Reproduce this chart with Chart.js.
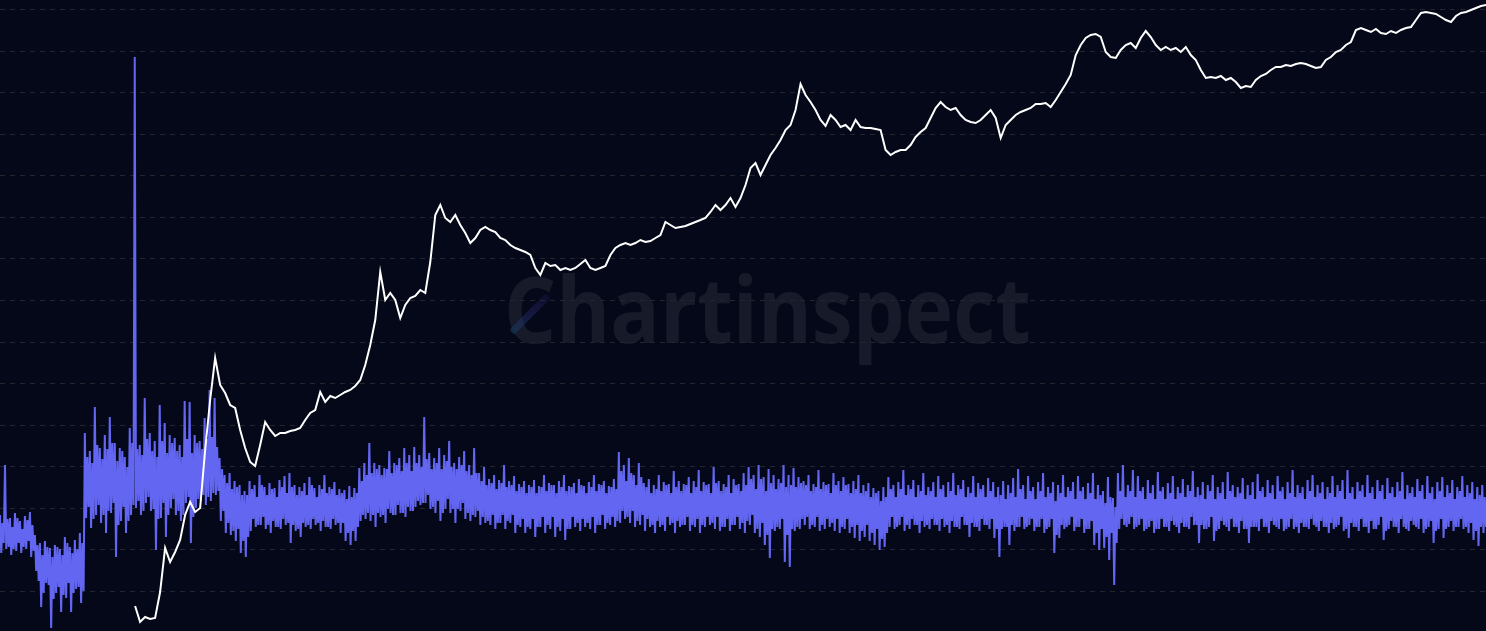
<!DOCTYPE html>
<html>
<head>
<meta charset="utf-8">
<script src="https://cdn.jsdelivr.net/npm/chart.js@4.4.0/dist/chart.umd.min.js"></script>
<style>
html,body{margin:0;padding:0;background:#050818;overflow:hidden}
#wrap{position:relative;width:1486px;height:631px}
</style>
</head>
<body>
<div id="wrap"><canvas id="c"></canvas></div>
<script>
// Price series (white), sampled evenly over the period; nulls before the series starts
const priceValues = [
null,null,null,null,null,null,null,null,null,null,null,null,null,null,null,null,null,null,null,null,null,null,null,null,null,null,null,
27,11,16,14,15,41,85,71,81,93,
118,131,121,125,183,233,275,248,240,228,
225,203,185,171,167,188,211,203,197,200,
200,202,203,205,213,220,223,241,231,237,
235,238,241,243,247,253,268,288,313,361,
333,340,333,315,328,335,337,343,340,371,
418,428,415,411,418,408,400,390,395,403,
406,403,401,395,393,388,385,383,381,378,
365,358,370,367,368,363,365,363,365,369,
373,365,363,365,367,378,385,388,390,388,
390,393,391,392,395,398,411,408,405,406,
407,409,411,413,415,421,428,423,428,435,
426,435,448,465,470,458,468,478,485,493,
503,508,523,549,538,531,523,513,507,518,
513,506,508,503,513,506,505,505,504,503,
483,478,481,483,483,488,496,501,505,515,
525,531,526,523,525,518,513,511,510,513,
518,523,515,495,508,513,518,521,523,525,
529,529,530,526,533,541,549,558,578,588,
595,598,599,596,581,576,575,583,588,590,
585,595,602,596,588,583,586,583,585,581,
586,578,573,563,555,556,555,557,553,555,
551,545,547,546,553,557,559,563,566,566,
568,567,569,570,569,567,565,566,573,576,
581,583,588,591,603,605,603,601,604,600,
599,602,600,603,605,606,613,620,621,620,
619,616,613,611,617,620,621,623,625,627,
628
];

// Indicator series (blue): four readings per sampling step (spike high, spike low, body high, body low)
const indicatorValues = [
118,80,110,90, 168,84,114,86, 115,78,106,84, 120,82,115,90, 112,80,104,86, 117,84,113,92, 121,76,108,82,
98,62,88,52, 90,26,78,40, 92,50,86,48, 85,5,76,34, 88,40,86,46, 84,21,78,38, 96,35,90,50, 86,21,80,40, 93,44,84,46, 100,30,90,42,
200,115,176,126, 182,105,170,114, 226,118,188,128, 185,110,174,118, 198,100,184,122, 216,120,190,130, 190,76,172,108, 185,112,182,126, 176,100,166,112, 205,118,190,128,
576,125,184,132,
188,118,178,122, 235,130,194,136, 200,122,182,124, 192,83,176,114, 228,115,192,130, 210,96,180,118, 198,125,190,134, 195,118,182,122,
188,112,176,118, 232,130,194,136, 231,90,180,116, 198,125,190,134, 192,132,184,138, 215,128,194,136, 243,132,196,140, 235,138,186,142,
175,112,164,122, 158,100,150,110, 160,98,144,102, 152,92,146,104, 148,80,138,92, 142,76,138,96,
152,102,144,114, 148,106,136,108, 158,108,148,116, 146,104,138,108, 150,100,144,112, 145,106,136,106, 153,104,146,114, 157,108,140,110, 160,90,146,108, 148,102,138,104,
146,96,142,110, 150,106,138,108, 156,104,148,114, 145,108,136,110, 148,102,144,112, 158,106,140,106, 146,104,144,114, 151,108,138,110, 144,100,140,110, 143,92,134,100,
147,88,136,102, 145,92,140,106, 165,112,152,118, 170,114,158,120, 190,112,160,118,
170,106,164,120, 168,116,158,118, 165,110,164,124, 182,120,160,118, 170,118,168,128, 175,120,162,120, 185,116,170,126, 178,122,162,122, 186,126,170,132,
178,128,166,130, 216,130,174,138, 180,124,164,126, 175,120,170,132, 185,112,164,120, 178,124,172,134, 192,120,166,124, 170,110,164,124, 176,122,168,130,
182,114,162,120, 168,112,158,118, 185,116,160,122, 160,108,152,116, 166,110,148,112, 154,108,150,118,
158,104,144,110, 153,110,150,118, 168,104,146,112, 152,110,148,118, 157,100,142,108, 149,106,146,114, 152,100,140,106, 148,104,146,114, 153,96,140,106, 147,106,146,116,
158,100,142,108, 150,104,148,116, 148,96,140,106, 152,102,146,114, 158,93,142,104, 147,104,146,116, 150,106,140,110, 154,102,148,114, 147,106,140,110, 151,104,146,116,
158,100,142,108, 149,108,148,118, 152,104,140,110, 147,108,146,116, 154,106,144,112,
181,110,162,122, 168,114,152,116, 175,110,160,122, 158,106,148,112, 170,108,156,118,
150,102,146,114, 154,106,140,108, 148,100,144,112, 158,106,142,108, 151,102,148,116, 149,108,140,110, 162,100,146,112, 152,106,142,108, 149,108,148,116, 156,102,140,108,
152,106,146,114, 163,100,142,108, 151,106,148,116, 149,108,140,110, 166,104,150,116, 152,102,142,106, 149,106,146,114, 158,102,140,108, 154,108,148,116, 149,104,142,110,
160,100,148,112,
166,108,154,118, 158,100,144,104, 168,96,154,110, 156,88,142,98, 164,75,150,104, 158,102,144,106, 154,104,150,114, 168,71,146,98, 158,66,148,104, 165,102,146,106,
156,104,150,114,
152,108,148,116, 158,104,142,108, 149,106,146,116, 163,102,144,108, 151,104,148,114, 149,106,140,110, 160,102,148,114, 152,100,142,106, 156,104,148,114, 149,100,140,106,
152,95,144,108, 158,92,140,102, 148,96,142,108, 150,92,136,100, 145,88,140,104, 142,83,132,94, 146,86,136,100,
156,106,144,116, 148,104,136,106, 151,108,144,116, 163,102,138,108, 148,104,144,114, 153,108,136,108, 148,100,142,112, 160,106,138,108, 146,104,142,114, 151,108,136,108,
157,102,144,114, 148,106,136,108, 151,100,142,112, 160,106,138,106, 148,104,144,116, 153,108,136,108, 146,96,140,110, 157,106,136,106, 150,102,144,114, 148,108,136,108,
155,104,142,114, 151,95,136,104,
146,76,138,104, 152,106,134,106, 148,88,140,108, 155,102,136,106, 164,106,144,116, 148,104,134,106, 157,108,142,114, 146,102,134,106, 151,106,142,114, 160,100,136,104,
146,106,140,114, 151,80,132,98, 148,95,140,108, 158,104,136,106, 146,108,142,116, 151,102,134,106, 157,106,142,114, 146,100,134,104, 150,104,140,112, 160,88,134,100,
148,83,138,104, 142,85,130,96, 156,73,136,100, 135,48,126,90,
160,104,142,114, 168,108,136,106, 148,109,142,116, 163,104,136,106, 157,108,142,114, 146,102,134,104, 153,106,140,112, 148,100,134,104, 161,104,142,114, 146,106,134,106,
150,102,140,112, 157,108,134,106, 146,100,140,110, 154,106,136,106, 148,104,142,116, 162,108,136,108, 146,90,138,108, 151,104,134,104, 148,106,142,116, 158,92,134,102,
146,104,140,112, 151,108,134,106, 161,102,142,114, 148,106,136,106, 146,100,140,112, 155,104,134,104, 148,90,138,106, 151,106,134,106, 159,102,142,114, 146,106,136,106,
153,100,140,112, 148,108,134,106, 157,104,142,114, 146,102,134,104, 151,106,140,114, 163,104,136,106, 148,100,140,110, 146,106,134,106, 153,104,142,114, 158,108,136,106,
148,102,140,112, 151,106,134,106, 146,100,140,110, 157,104,136,106, 148,108,142,116, 153,102,134,104, 163,95,140,110, 146,106,134,106, 151,102,142,114, 148,106,136,106,
158,100,140,112, 146,104,134,104, 153,108,142,116, 148,93,134,102, 155,104,140,112, 146,106,136,106, 151,100,142,114, 161,106,134,104, 148,102,140,112, 146,108,136,106,
154,104,142,114, 148,100,134,104, 157,106,140,112, 146,90,134,102, 151,104,142,114, 156,95,136,104, 148,106,140,112, 153,102,134,106, 146,106,142,114, 157,104,136,106,
148,100,140,110, 151,93,134,102, 146,87,138,106, 148,100,136,106
];

const periodStart = '2009-01-03';
const periodEnd = '2025-06-30';
const watermarkText = 'Chartinspect';

function sampleDates(n) {
  const t0 = Date.parse(periodStart), t1 = Date.parse(periodEnd);
  return Array.from({length: n}, (_, i) => new Date(t0 + (t1 - t0) * i / (n - 1)).toISOString().slice(0, 10));
}
const priceLabels = sampleDates(priceValues.length);
const indicatorLabels = sampleDates(indicatorValues.length);

const backdrop = {
  id: 'backdrop',
  beforeDraw(chart) {
    const ctx = chart.ctx;
    ctx.save();
    ctx.fillStyle = '#050818';
    ctx.fillRect(0, 0, chart.width, chart.height);
    ctx.font = 'bold 92px "Open Sans", "Noto Sans", sans-serif';
    ctx.textBaseline = 'alphabetic';
    const w = ctx.measureText(watermarkText).width;
    ctx.translate(504, 343);
    ctx.scale(527 / w, 1);
    ctx.fillStyle = 'rgba(255,255,255,0.075)';
    ctx.fillText(watermarkText, 0, 0);
    ctx.restore();
    ctx.save();
    const g = ctx.createLinearGradient(512, 332, 548, 296);
    g.addColorStop(0, 'rgba(20,60,90,0.6)');
    g.addColorStop(1, 'rgba(70,40,160,0.15)');
    ctx.strokeStyle = g;
    ctx.lineWidth = 7;
    ctx.lineCap = 'round';
    ctx.beginPath();
    ctx.moveTo(514, 330);
    ctx.lineTo(546, 298);
    ctx.stroke();
    ctx.restore();
  }
};

new Chart(document.getElementById('c'), {
  type: 'line',
  data: {
    datasets: [
      {label: 'Price', data: priceValues, xAxisID: 'x', yAxisID: 'y', borderColor: '#ffffff', borderWidth: 2, pointRadius: 0, tension: 0, spanGaps: false},
      {label: 'Indicator', data: indicatorValues, xAxisID: 'xb', yAxisID: 'y', borderColor: '#6366f1', borderWidth: 2, pointRadius: 0, tension: 0}
    ]
  },
  options: {
    responsive: true,
    maintainAspectRatio: false,
    animation: false,
    events: [],
    layout: {padding: 0, autoPadding: false},
    plugins: {legend: {display: false}, tooltip: {enabled: false}},
    scales: {
      x: {type: 'category', labels: priceLabels, display: false, offset: false},
      xb: {type: 'category', labels: indicatorLabels, display: false, offset: false},
      y: {
        type: 'linear', min: 2, max: 633, display: true,
        ticks: {display: false, stepSize: 41.57, includeBounds: false},
        grid: {color: '#23262f', lineWidth: 1, drawTicks: false},
        border: {display: false, dash: [5, 5]}
      }
    }
  },
  plugins: [backdrop]
});
</script>
</body>
</html>
